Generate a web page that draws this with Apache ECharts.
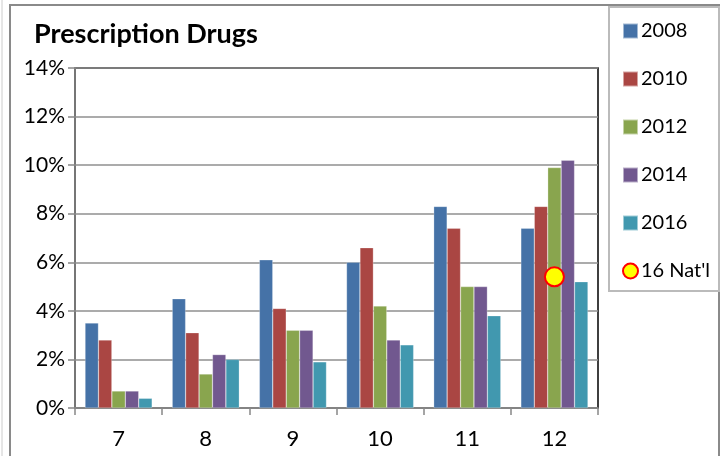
<!DOCTYPE html>
<html>
<head>
<meta charset="utf-8">
<script src="https://cdn.jsdelivr.net/npm/echarts@6/dist/echarts.min.js"></script>
<style>html,body{margin:0;padding:0;background:#fff}#c{width:726px;height:456px}</style>
</head>
<body>
<div id="c"></div>
<script>
var categories = ['7', '8', '9', '10', '11', '12'];
var s2008 = [3.5, 4.5, 6.1, 6.0, 8.3, 7.4];
var s2010 = [2.8, 3.1, 4.1, 6.6, 7.4, 8.3];
var s2012 = [0.7, 1.4, 3.2, 4.2, 5.0, 9.9];
var s2014 = [0.7, 2.2, 3.2, 2.8, 5.0, 10.2];
var s2016 = [0.4, 2.0, 1.9, 2.6, 3.8, 5.2];
var natl = [null, null, null, null, null, 5.4];
var seriesNames = ['2008', '2010', '2012', '2014', '2016', "16 Nat'l"];
var colors = ['#4572A7', '#AA4643', '#89A54E', '#71588F', '#4198AF'];

var chart = echarts.init(document.getElementById('c'), null, {renderer: 'canvas'});
var barData = [s2008, s2010, s2012, s2014, s2016];
var series = barData.map(function (d, i) {
  return {
    name: seriesNames[i], type: 'bar', data: d,
    barGap: '0%', barCategoryGap: '23%',
    itemStyle: {color: colors[i], borderColor: 'rgba(255,255,255,0.5)', borderWidth: 0.5},
    z: 2
  };
});
series.push({
  name: seriesNames[5], type: 'scatter', data: natl,
  symbol: 'circle', symbolSize: 19,
  itemStyle: {color: '#FFFF00', borderColor: '#FF0000', borderWidth: 2, opacity: 1},
  z: 5
});
var font = 'Lato, "Open Sans", sans-serif';
chart.setOption({
  animation: false,
  textStyle: {fontFamily: font},
  title: {
    text: 'Prescription Drugs', left: 29, top: 16,
    textStyle: {fontFamily: font, fontSize: 27, fontWeight: 'bold', color: '#000'}
  },
  legend: {
    orient: 'vertical', left: 617, top: 16, itemGap: 28,
    itemWidth: 15, itemHeight: 15,
    textStyle: {fontFamily: font, fontSize: 20, color: '#000', padding: [0, 0, 0, -2]},
    data: [
      {name: '2008', icon: 'rect'}, {name: '2010', icon: 'rect'}, {name: '2012', icon: 'rect'},
      {name: '2014', icon: 'rect'}, {name: '2016', icon: 'rect'},
      {name: "16 Nat'l", icon: 'circle'}
    ]
  },
  grid: {left: 75, right: 128, top: 68, bottom: 48, show: true, borderColor: '#000', borderWidth: 1.5, backgroundColor: 'transparent'},
  xAxis: {
    type: 'category', data: categories,
    axisLine: {lineStyle: {color: '#888', width: 1.5}},
    axisTick: {show: true, length: 7, lineStyle: {color: '#888', width: 1.5}},
    axisLabel: {fontFamily: font, fontSize: 22, color: '#000', margin: 20}
  },
  yAxis: {
    type: 'value', min: 0, max: 14, interval: 2,
    axisLine: {show: true, lineStyle: {color: '#888', width: 1.5}},
    axisTick: {show: true, length: 7, lineStyle: {color: '#888', width: 1.5}},
    splitLine: {lineStyle: {color: '#8f8f8f', width: 1.5}},
    axisLabel: {fontFamily: font, fontSize: 21, color: '#000', margin: 10, formatter: '{value}%'}
  },
  graphic: [
    {type: 'rect', shape: {x: 10, y: 5, width: 709, height: 460}, style: {fill: 'none', stroke: '#8a8a8a', lineWidth: 2}, silent: true},
    {type: 'rect', shape: {x: 609, y: 7, width: 110, height: 284}, style: {fill: 'none', stroke: '#bbbbbb', lineWidth: 2}, silent: true},
    {type: 'line', shape: {x1: 2, y1: 0, x2: 2, y2: 456}, style: {stroke: '#cccccc', lineWidth: 1}, silent: true}
  ],
  series: series
});
</script>
</body>
</html>
